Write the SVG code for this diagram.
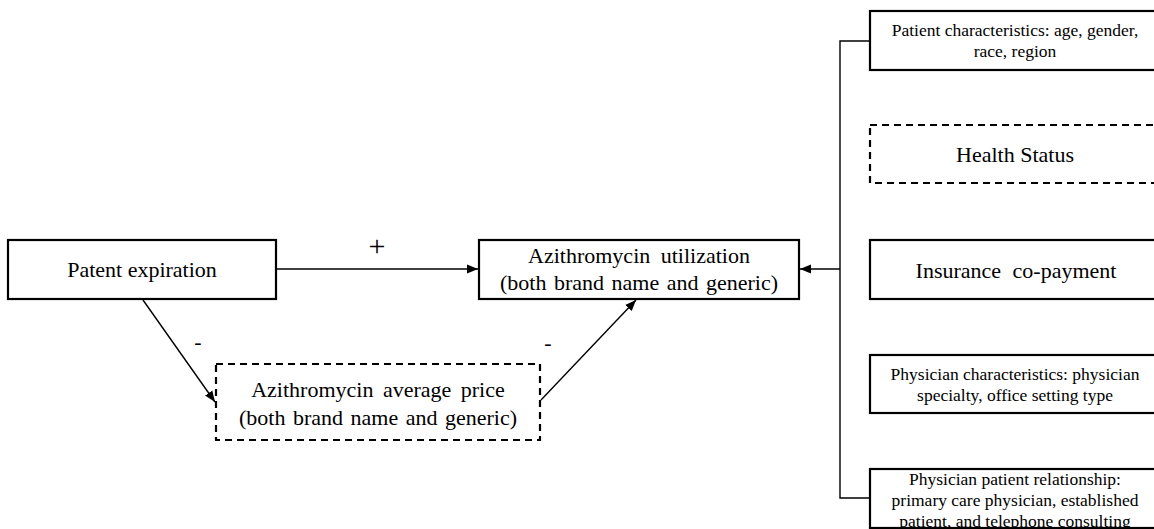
<svg xmlns="http://www.w3.org/2000/svg" width="1154" height="529" viewBox="0 0 1154 529">
<style>
  .box { fill: #ffffff; stroke: #000000; stroke-width: 2.2; }
  .dash { fill: #ffffff; stroke: #000000; stroke-width: 2.2; stroke-dasharray: 7 5; }
  .conn { fill: none; stroke: #000000; stroke-width: 1.4; }
  .big { font-family: "Liberation Serif", "DejaVu Serif", serif; font-size: 22px; fill: #000000; text-anchor: middle; }
  .small { font-family: "Liberation Serif", "DejaVu Serif", serif; font-size: 17.5px; fill: #000000; text-anchor: middle; }
  .sign { font-family: "Liberation Serif", "DejaVu Serif", serif; fill: #000000; text-anchor: middle; }
</style>
<defs>
  <marker id="arr" markerUnits="userSpaceOnUse" markerWidth="12" markerHeight="10" viewBox="0 0 12 10" refX="11" refY="5" orient="auto">
    <path d="M0,0.5 L11,5 L0,9.5 Z" fill="#000000"/>
  </marker>
</defs>
<rect width="1154" height="529" fill="#ffffff"/>

<g id="connectors">
  <line class="conn" x1="277" y1="269" x2="478" y2="269" marker-end="url(#arr)"/>
  <line class="conn" x1="143" y1="300" x2="215" y2="402" marker-end="url(#arr)"/>
  <line class="conn" x1="541" y1="400" x2="636" y2="300" marker-end="url(#arr)"/>
  <polyline class="conn" points="870,41 840,41 840,498 870,498"/>
  <line class="conn" x1="840" y1="269" x2="800" y2="269" marker-end="url(#arr)"/>
  <text class="sign" x="377" y="256" font-size="30">+</text>
  <text class="sign" x="198" y="349" font-size="22">-</text>
  <text class="sign" x="548" y="350" font-size="22">-</text>
</g>

<g id="patent-expiration">
  <rect class="box" x="8" y="240" width="268" height="59"/>
  <text class="big" x="142" y="277">Patent expiration</text>
</g>

<g id="azithromycin-utilization">
  <rect class="box" x="479" y="240" width="320" height="59"/>
  <text class="big" x="639" y="263" word-spacing="5">Azithromycin utilization</text>
  <text class="big" x="639" y="290" word-spacing="2">(both brand name and generic)</text>
</g>

<g id="azithromycin-price">
  <rect class="dash" x="216" y="364" width="324" height="76"/>
  <text class="big" x="378" y="397" word-spacing="4">Azithromycin average price</text>
  <text class="big" x="378" y="425" word-spacing="2">(both brand name and generic)</text>
</g>

<g id="patient-characteristics">
  <rect class="box" x="870" y="11" width="295" height="59"/>
  <text class="small" x="1015" y="36">Patient characteristics: age, gender,</text>
  <text class="small" x="1015" y="57">race, region</text>
</g>

<g id="health-status">
  <rect class="dash" x="870" y="125" width="295" height="58"/>
  <text class="big" x="1015" y="162">Health Status</text>
</g>

<g id="insurance-copayment">
  <rect class="box" x="870" y="240" width="295" height="59"/>
  <text class="big" x="1016" y="278" word-spacing="6">Insurance co-payment</text>
</g>

<g id="physician-characteristics">
  <rect class="box" x="870" y="355" width="295" height="58"/>
  <text class="small" x="1015" y="380">Physician characteristics: physician</text>
  <text class="small" x="1015" y="401">specialty, office setting type</text>
</g>

<g id="physician-patient-relationship">
  <rect class="box" x="870" y="469" width="295" height="59"/>
  <text class="small" x="1015" y="485">Physician patient relationship:</text>
  <text class="small" x="1015" y="506">primary care physician, established</text>
  <text class="small" x="1015" y="527">patient, and telephone consulting</text>
  <line x1="870" y1="528" x2="1154" y2="528" stroke="#000000" stroke-width="2.2"/>
</g>
</svg>
